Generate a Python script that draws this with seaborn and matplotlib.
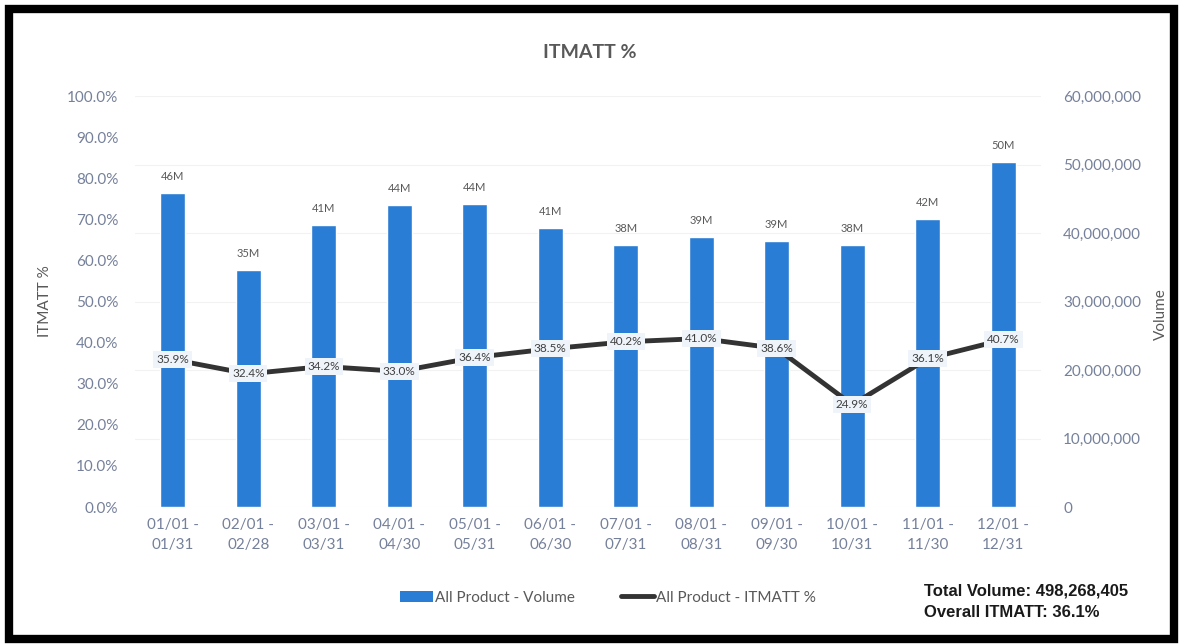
import numpy as np
import pandas as pd
import matplotlib
matplotlib.use("Agg")
import matplotlib.pyplot as plt
import seaborn as sns
from matplotlib.patches import Rectangle
from matplotlib.lines import Line2D
from matplotlib.patches import Patch

categories = ["01/01 -\n01/31", "02/01 -\n02/28", "03/01 -\n03/31", "04/01 -\n04/30",
              "05/01 -\n05/31", "06/01 -\n06/30", "07/01 -\n07/31", "08/01 -\n08/31",
              "09/01 -\n09/30", "10/01 -\n10/31", "11/01 -\n11/30", "12/01 -\n12/31"]
volume_m = [45.8, 34.6, 41.2, 44.1, 44.3, 40.8, 38.3, 39.4, 38.9, 38.3, 42.1, 50.4]
volume_labels = ["46M", "35M", "41M", "44M", "44M", "41M", "38M", "39M", "39M", "38M", "42M", "50M"]
itmatt_pct = [35.9, 32.4, 34.2, 33.0, 36.4, 38.5, 40.2, 41.0, 38.6, 24.9, 36.1, 40.7]
left_ticks = [0, 10, 20, 30, 40, 50, 60, 70, 80, 90, 100]
right_ticks = [0, 10_000_000, 20_000_000, 30_000_000, 40_000_000, 50_000_000, 60_000_000]

sns.set_style("white")
plt.rcParams['font.family'] = ['Lato', 'DejaVu Sans']

BLUE = "#2A7DD4"
LINE = "#333333"
TICK = "#75809A"
GRAY = "#595959"

df = pd.DataFrame({"cat": categories, "vol": np.array(volume_m) * 1e6,
                   "pct": itmatt_pct, "pos": np.arange(len(categories))})

fig = plt.figure(figsize=(11.8, 6.44), dpi=100)
ax = fig.add_axes([0.1144, 0.2127, 0.7678, 0.6382])
ax2 = ax.twinx()

# Volume bars (secondary scale shown on right)
sns.barplot(data=df, x="cat", y="vol", color=BLUE, width=0.33, saturation=1,
            ax=ax, zorder=2)
ax.set_ylim(0, 60_000_000)
ax.set_xlim(-0.5, len(categories) - 0.5)
ax.set_yticks(right_ticks)
ax.set_yticklabels(["0" if v == 0 else f"{v:,}" for v in right_ticks])
ax.yaxis.tick_right()
ax.yaxis.set_label_position("right")
ax.tick_params(axis="y", colors=TICK, labelsize=11, length=0, pad=16,
               left=False, labelleft=False, right=True, labelright=True)
ax.tick_params(axis="x", colors=TICK, labelsize=11, length=0, pad=8)
ax.set_xlabel("")
ax.set_ylabel("Volume", color=GRAY, fontsize=11, va="center", ha="center")
ax.yaxis.set_label_coords(1.132, 0.47)
for t in ax.get_xticklabels():
    t.set_linespacing(1.5)
for s in ax.spines.values():
    s.set_visible(False)
for v in right_ticks:
    ax.axhline(v, color="#F2F2F2", lw=0.8, zorder=0)

for i, (v, lab) in enumerate(zip(volume_m, volume_labels)):
    ax.text(i, v * 1e6 + 1_600_000, lab, ha="center", va="bottom",
            fontsize=8, color=GRAY, zorder=3)

# ITMATT % line (primary scale shown on left)
sns.lineplot(data=df, x="pos", y="pct", color=LINE, lw=3.5, ax=ax2, zorder=4)
ax2.set_ylim(0, 100)
ax2.set_xlim(-0.5, len(categories) - 0.5)
ax2.set_yticks(left_ticks)
ax2.set_yticklabels([f"{v:.1f}%" for v in left_ticks])
ax2.yaxis.tick_left()
ax2.yaxis.set_label_position("left")
ax2.tick_params(axis="y", colors=TICK, labelsize=11, length=0, pad=12,
                right=False, labelright=False, left=True, labelleft=True)
ax2.set_ylabel("ITMATT %", color=GRAY, fontsize=11, va="center", ha="center")
ax2.yaxis.set_label_coords(-0.099, 0.5)
ax2.set_xlabel("")
for s in ax2.spines.values():
    s.set_visible(False)

for i, p in enumerate(itmatt_pct):
    ax2.text(i, p, f"{p:.1f}%", ha="center", va="center", fontsize=8.5,
             color="#404040", zorder=5,
             bbox=dict(boxstyle="square,pad=0.25", fc="#EEF4FA", ec="none"))

fig.text(0.5, 0.918, "ITMATT %", ha="center", va="center", fontsize=14,
         fontweight="bold", color=GRAY)

handles = [Patch(facecolor=BLUE, edgecolor="none"),
           Line2D([0], [0], color=LINE, lw=3.5)]
fig.legend(handles, ["All Product - Volume", "All Product - ITMATT %"],
           loc="center", bbox_to_anchor=(0.515, 0.072), ncol=2, frameon=False,
           fontsize=11, labelcolor=GRAY, handlelength=2.2, handletextpad=0.1,
           columnspacing=3.0)

fig.text(0.783, 0.083, "Total Volume: 498,268,405", fontsize=12, fontweight="bold",
         family=["Liberation Sans", "DejaVu Sans"], color="#1a1a1a", va="center")
fig.text(0.783, 0.049, "Overall ITMATT: 36.1%", fontsize=12, fontweight="bold",
         family=["Liberation Sans", "DejaVu Sans"], color="#1a1a1a", va="center")

fig.patches.append(Rectangle((9 / 1180, 5 / 644), 1165 / 1180, 1 - 14 / 644,
                             transform=fig.transFigure, fill=False,
                             ec="black", lw=6.0, zorder=10))

fig.savefig("out.png", dpi=100, facecolor="white")
